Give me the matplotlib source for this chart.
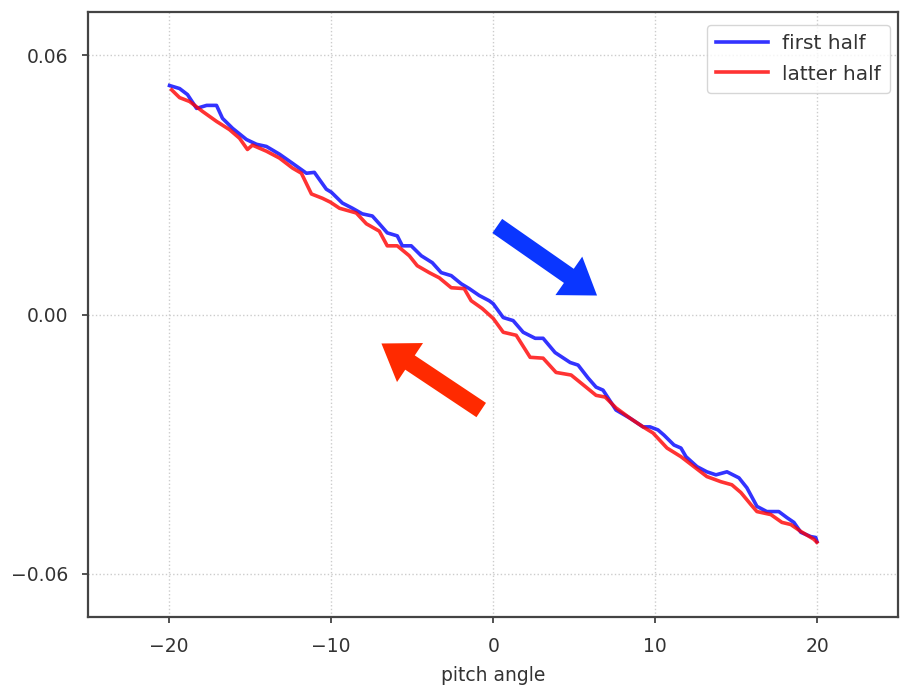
import matplotlib
matplotlib.use("Agg")
import matplotlib.pyplot as plt

# pitch angle (deg) and response
first_x = [-19.98, -19.36, -18.87, -18.31, -17.69, -17.08, -16.71, -16.09, -15.23, -14.61,
           -14.00, -13.19, -12.39, -11.53, -11.04, -10.30, -9.99, -9.31, -8.69, -8.08,
           -7.46, -7.03, -6.54, -5.92, -5.61, -5.06, -4.44, -3.76, -3.21, -2.59,
           -1.97, -1.48, -0.86, -0.25, 0.00, 0.62, 1.23, 1.85, 2.59, 3.08,
           3.82, 4.75, 5.24, 5.86, 6.35, 6.78, 7.58, 8.45, 9.25, 9.68,
           10.17, 10.54, 11.16, 11.59, 11.90, 12.58, 13.19, 13.75, 14.43, 15.17,
           15.66, 16.28, 16.89, 17.63, 18.13, 18.56, 18.99, 19.61, 19.91, 19.98]
first_y = [0.0530, 0.0523, 0.0509, 0.0477, 0.0484, 0.0484, 0.0454, 0.0431, 0.0405, 0.0394,
           0.0389, 0.0371, 0.0350, 0.0327, 0.0329, 0.0290, 0.0283, 0.0258, 0.0246, 0.0233,
           0.0228, 0.0210, 0.0189, 0.0182, 0.0159, 0.0159, 0.0136, 0.0120, 0.0097, 0.0090,
           0.0071, 0.0060, 0.0044, 0.0032, 0.0025, -0.0007, -0.0014, -0.0041, -0.0055, -0.0055,
           -0.0088, -0.0111, -0.0117, -0.0147, -0.0168, -0.0175, -0.0221, -0.0240, -0.0260, -0.0260,
           -0.0267, -0.0279, -0.0302, -0.0309, -0.0329, -0.0352, -0.0364, -0.0371, -0.0364, -0.0378,
           -0.0401, -0.0444, -0.0456, -0.0456, -0.0470, -0.0481, -0.0504, -0.0514, -0.0516, -0.0525]

latter_x = [-19.85, -19.36, -18.74, -17.94, -17.08, -16.28, -15.66, -15.17, -14.86, -14.00,
            -13.19, -12.39, -11.84, -11.22, -10.54, -10.05, -9.49, -8.45, -7.83, -7.03,
            -6.54, -5.92, -5.18, -4.69, -3.95, -3.33, -2.59, -1.79, -1.36, -0.68,
            0.00, 0.62, 1.42, 2.28, 3.08, 3.88, 4.81, 5.73, 6.35, 6.91,
            7.58, 8.45, 9.25, 9.86, 10.73, 11.59, 12.39, 13.19, 14.06, 14.73,
            15.29, 15.91, 16.28, 17.14, 17.82, 18.37, 18.99, 19.79, 19.98]
latter_y = [0.0520, 0.0502, 0.0493, 0.0470, 0.0447, 0.0428, 0.0408, 0.0382, 0.0392, 0.0378,
            0.0362, 0.0339, 0.0327, 0.0279, 0.0269, 0.0260, 0.0246, 0.0235, 0.0210, 0.0193,
            0.0159, 0.0159, 0.0136, 0.0113, 0.0097, 0.0085, 0.0062, 0.0060, 0.0032, 0.0014,
            -0.0009, -0.0041, -0.0048, -0.0099, -0.0101, -0.0134, -0.0140, -0.0168, -0.0187, -0.0191,
            -0.0216, -0.0240, -0.0260, -0.0274, -0.0309, -0.0329, -0.0352, -0.0375, -0.0387, -0.0394,
            -0.0412, -0.0440, -0.0456, -0.0463, -0.0481, -0.0486, -0.0502, -0.0520, -0.0527]

# sweep-direction arrows: (tail, tip) in data units
blue_arrow = ((0.25, 0.0205), (6.41, 0.0044))
red_arrow = ((-0.74, -0.0221), (-6.9, -0.0067))

FS = 13.5

fig = plt.figure(figsize=(9, 6.89), dpi=100)
ax = fig.add_axes([0.098, 0.1045, 0.9, 0.878])

ax.plot(first_x, first_y, color='b', alpha=0.8, lw=2.6, label='first half')
ax.plot(latter_x, latter_y, color='r', alpha=0.8, lw=2.6, label='latter half')

for (tail, tip), col in [(blue_arrow, '#0a36ff'), (red_arrow, '#ff2a00')]:
    ax.annotate('', xy=tip, xytext=tail,
                arrowprops=dict(arrowstyle='simple,head_length=1.1,head_width=1.5,tail_width=0.55',
                                color=col, mutation_scale=22.5, shrinkA=0, shrinkB=0, lw=0))

ax.set_xlim(-25, 25)
ax.set_ylim(-0.07, 0.07)
ax.set_xticks([-20, -10, 0, 10, 20])
ax.set_yticks([-0.06, 0.00, 0.06])
ax.set_yticklabels(['\u22120.06', '0.00', '0.06'])
ax.grid(True, linestyle=':', color='#cccccc', lw=1)
ax.set_xlabel('pitch angle', fontsize=FS, color='#333333', labelpad=7)
ax.tick_params(labelsize=FS, length=4.5, width=1.2, pad=10, colors='#333333')
for s in ax.spines.values():
    s.set_color('#444444')
    s.set_linewidth(1.6)

leg = ax.legend(loc='upper right', bbox_to_anchor=(0.99, 0.978), borderaxespad=0,
                fontsize=14.5, handlelength=2.6, handletextpad=0.7, labelspacing=0.55,
                borderpad=0.45)
for t in leg.get_texts():
    t.set_color('#333333')

fig.savefig('out.png', dpi=100)
